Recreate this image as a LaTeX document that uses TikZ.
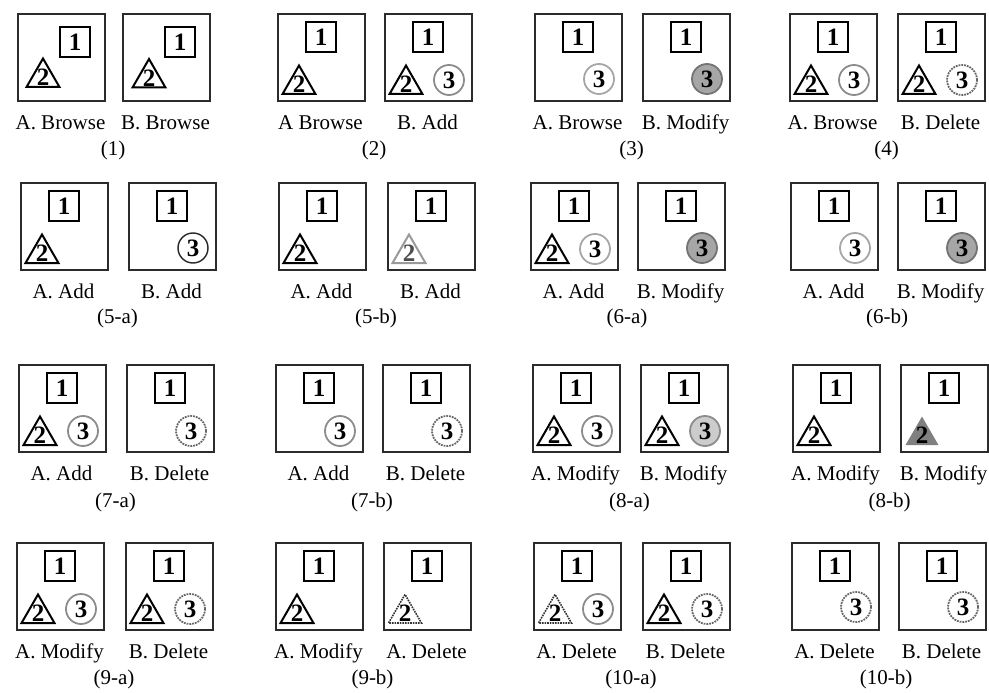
\documentclass[tikz,border=0pt]{standalone}
\usepackage{fontspec}
\setmainfont{Liberation Serif}
\usetikzlibrary{shapes.geometric}
\definecolor{framec}{HTML}{2B2B2B}
\definecolor{ringc}{HTML}{8C8C8C}
\definecolor{modc}{HTML}{A6A6A6}

\begin{document}
\begin{tikzpicture}[x=1pt,y=-1pt,font=\fontsize{21}{24}\selectfont,
  frame/.style={draw=framec,line width=1.6pt,minimum size=87pt,inner sep=0pt,anchor=north west},
  digit/.style={font=\fontsize{25}{25}\selectfont\bfseries,inner sep=0pt},
  sq/.style={digit,draw=black,line width=2.2pt,minimum size=30pt},
  tri/.style={regular polygon,regular polygon sides=3,minimum size=38pt,inner sep=0pt,draw=black,line width=2pt},
  trigray/.style={tri,draw=black!40},
  trimod/.style={tri,draw=none,fill=black!50},
  tridel/.style={tri,draw=black!80,line width=1.6pt,densely dotted},
  circ/.style={digit,circle,draw=ringc,line width=1.8pt,minimum size=30pt},
  circlt/.style={circ,draw=black!35},
  circnew/.style={circ,draw=black!85,line width=1.4pt},
  circmod/.style={circ,fill=modc,draw=black!55},
  circmodlt/.style={circ,fill=black!20,draw=black!45},
  circdel/.style={circ,draw=black!60,densely dotted},
  lab/.style={inner sep=0pt,anchor=base},
  caption/.style={inner sep=0pt,anchor=base}]
\useasboundingbox (0,0) rectangle (989,693);
% row 1
\begin{scope}[shift={(17,13)}]
\node[frame] (f1a) at (0,0) {};
\node[sq] (s1a) at (58,29) {1};
\node[tri] (t1a) at (26,64.5) {};
\node[digit] (n1a) at (t1a.center) {2};
\node[lab] (l1a) at (43.5,116) {A. Browse};
\end{scope}
\begin{scope}[shift={(122,13)}]
\node[frame] (f1b) at (0,0) {};
\node[sq] (s1b) at (58,29) {1};
\node[tri] (t1b) at (27,65) {};
\node[digit] (n1b) at (t1b.center) {2};
\node[lab] (l1b) at (43.5,116) {B. Browse};
\end{scope}
\node[caption] (c1) at (113,155) {(1)};
\begin{scope}[shift={(277,13)}]
\node[frame] (f2a) at (0,0) {};
\node[sq] (s2a) at (44,24) {1};
\node[tri] (t2a) at (22,71.5) {};
\node[digit] (n2a) at (t2a.center) {2};
\node[lab] (l2a) at (43.5,116) {A Browse};
\end{scope}
\begin{scope}[shift={(384,13)}]
\node[frame] (f2b) at (0,0) {};
\node[sq] (s2b) at (44,24) {1};
\node[tri] (t2b) at (22,71.5) {};
\node[digit] (n2b) at (t2b.center) {2};
\node[circ] (o2b) at (65,67) {3};
\node[lab] (l2b) at (43.5,116) {B. Add};
\end{scope}
\node[caption] (c2) at (374,155) {(2)};
\begin{scope}[shift={(534,13)}]
\node[frame] (f3a) at (0,0) {};
\node[sq] (s3a) at (44,24) {1};
\node[circlt] (o3a) at (65,66) {3};
\node[lab] (l3a) at (43.5,116) {A. Browse};
\end{scope}
\begin{scope}[shift={(642,13)}]
\node[frame] (f3b) at (0,0) {};
\node[sq] (s3b) at (44,24) {1};
\node[circmod] (o3b) at (65,66) {3};
\node[lab] (l3b) at (43.5,116) {B. Modify};
\end{scope}
\node[caption] (c3) at (631.5,155) {(3)};
\begin{scope}[shift={(789,13)}]
\node[frame] (f4a) at (0,0) {};
\node[sq] (s4a) at (44,24) {1};
\node[tri] (t4a) at (22,71.5) {};
\node[digit] (n4a) at (t4a.center) {2};
\node[circ] (o4a) at (65,67) {3};
\node[lab] (l4a) at (43.5,116) {A. Browse};
\end{scope}
\begin{scope}[shift={(897,13)}]
\node[frame] (f4b) at (0,0) {};
\node[sq] (s4b) at (44,24) {1};
\node[tri] (t4b) at (22,71.5) {};
\node[digit] (n4b) at (t4b.center) {2};
\node[circdel] (o4b) at (65,67) {3};
\node[lab] (l4b) at (43.5,116) {B. Delete};
\end{scope}
\node[caption] (c4) at (886.5,155) {(4)};
% row 2
\begin{scope}[shift={(20,182)}]
\node[frame] (f5a) at (0,0) {};
\node[sq] (s5a) at (44,24) {1};
\node[tri] (t5a) at (22,71.5) {};
\node[digit] (n5a) at (t5a.center) {2};
\node[lab] (l5a) at (43.5,116) {A. Add};
\end{scope}
\begin{scope}[shift={(128,182)}]
\node[frame] (f5b) at (0,0) {};
\node[sq] (s5b) at (44,24) {1};
\node[circnew] (o5b) at (65,66) {3};
\node[lab] (l5b) at (43.5,116) {B. Add};
\end{scope}
\node[caption] (c5) at (117.5,323) {(5-a)};
\begin{scope}[shift={(278,182)}]
\node[frame] (f6a) at (0,0) {};
\node[sq] (s6a) at (44,24) {1};
\node[tri] (t6a) at (22,71.5) {};
\node[digit] (n6a) at (t6a.center) {2};
\node[lab] (l6a) at (43.5,116) {A. Add};
\end{scope}
\begin{scope}[shift={(387,182)}]
\node[frame] (f6b) at (0,0) {};
\node[sq] (s6b) at (44,24) {1};
\node[trigray] (t6b) at (22,71.5) {};
\node[digit,text=black!70] (n6b) at (t6b.center) {2};
\node[lab] (l6b) at (43.5,116) {B. Add};
\end{scope}
\node[caption] (c6) at (376,323) {(5-b)};
\begin{scope}[shift={(530,182)}]
\node[frame] (f7a) at (0,0) {};
\node[sq] (s7a) at (44,24) {1};
\node[tri] (t7a) at (22,71.5) {};
\node[digit] (n7a) at (t7a.center) {2};
\node[circlt] (o7a) at (65,67) {3};
\node[lab] (l7a) at (43.5,116) {A. Add};
\end{scope}
\begin{scope}[shift={(637,182)}]
\node[frame] (f7b) at (0,0) {};
\node[sq] (s7b) at (44,24) {1};
\node[circmod] (o7b) at (65,66) {3};
\node[lab] (l7b) at (43.5,116) {B. Modify};
\end{scope}
\node[caption] (c7) at (627,323) {(6-a)};
\begin{scope}[shift={(790,182)}]
\node[frame] (f8a) at (0,0) {};
\node[sq] (s8a) at (44,24) {1};
\node[circlt] (o8a) at (65,66) {3};
\node[lab] (l8a) at (43.5,116) {A. Add};
\end{scope}
\begin{scope}[shift={(897,182)}]
\node[frame] (f8b) at (0,0) {};
\node[sq] (s8b) at (44,24) {1};
\node[circmod] (o8b) at (65,66) {3};
\node[lab] (l8b) at (43.5,116) {B. Modify};
\end{scope}
\node[caption] (c8) at (887,323) {(6-b)};
% row 3
\begin{scope}[shift={(18,364)}]
\node[frame] (f9a) at (0,0) {};
\node[sq] (s9a) at (44,24) {1};
\node[tri] (t9a) at (22,71.5) {};
\node[digit] (n9a) at (t9a.center) {2};
\node[circ] (o9a) at (65,67) {3};
\node[lab] (l9a) at (43.5,116) {A. Add};
\end{scope}
\begin{scope}[shift={(126,364)}]
\node[frame] (f9b) at (0,0) {};
\node[sq] (s9b) at (44,24) {1};
\node[circdel] (o9b) at (65,67) {3};
\node[lab] (l9b) at (43.5,116) {B. Delete};
\end{scope}
\node[caption] (c9) at (115.5,507) {(7-a)};
\begin{scope}[shift={(275,364)}]
\node[frame] (f10a) at (0,0) {};
\node[sq] (s10a) at (44,24) {1};
\node[circ] (o10a) at (65,67) {3};
\node[lab] (l10a) at (43.5,116) {A. Add};
\end{scope}
\begin{scope}[shift={(382,364)}]
\node[frame] (f10b) at (0,0) {};
\node[sq] (s10b) at (44,24) {1};
\node[circdel] (o10b) at (65,67) {3};
\node[lab] (l10b) at (43.5,116) {B. Delete};
\end{scope}
\node[caption] (c10) at (372,507) {(7-b)};
\begin{scope}[shift={(532,364)}]
\node[frame] (f11a) at (0,0) {};
\node[sq] (s11a) at (44,24) {1};
\node[tri] (t11a) at (22,71.5) {};
\node[digit] (n11a) at (t11a.center) {2};
\node[circ] (o11a) at (65,67) {3};
\node[lab] (l11a) at (43.5,116) {A. Modify};
\end{scope}
\begin{scope}[shift={(640,364)}]
\node[frame] (f11b) at (0,0) {};
\node[sq] (s11b) at (44,24) {1};
\node[tri] (t11b) at (22,71.5) {};
\node[digit] (n11b) at (t11b.center) {2};
\node[circmodlt] (o11b) at (65,67) {3};
\node[lab] (l11b) at (43.5,116) {B. Modify};
\end{scope}
\node[caption] (c11) at (629.5,507) {(8-a)};
\begin{scope}[shift={(792,364)}]
\node[frame] (f12a) at (0,0) {};
\node[sq] (s12a) at (44,24) {1};
\node[tri] (t12a) at (22,71.5) {};
\node[digit] (n12a) at (t12a.center) {2};
\node[lab] (l12a) at (43.5,116) {A. Modify};
\end{scope}
\begin{scope}[shift={(900,364)}]
\node[frame] (f12b) at (0,0) {};
\node[sq] (s12b) at (44,24) {1};
\node[trimod] (t12b) at (22,71.5) {};
\node[digit] (n12b) at (t12b.center) {2};
\node[lab] (l12b) at (43.5,116) {B. Modify};
\end{scope}
\node[caption] (c12) at (889.5,507) {(8-b)};
% row 4
\begin{scope}[shift={(16,542)}]
\node[frame] (f13a) at (0,0) {};
\node[sq] (s13a) at (44,24) {1};
\node[tri] (t13a) at (22,71.5) {};
\node[digit] (n13a) at (t13a.center) {2};
\node[circ] (o13a) at (65,67) {3};
\node[lab] (l13a) at (43.5,116) {A. Modify};
\end{scope}
\begin{scope}[shift={(125,542)}]
\node[frame] (f13b) at (0,0) {};
\node[sq] (s13b) at (44,24) {1};
\node[tri] (t13b) at (22,71.5) {};
\node[digit] (n13b) at (t13b.center) {2};
\node[circdel] (o13b) at (65,67) {3};
\node[lab] (l13b) at (43.5,116) {B. Delete};
\end{scope}
\node[caption] (c13) at (114,684) {(9-a)};
\begin{scope}[shift={(275,542)}]
\node[frame] (f14a) at (0,0) {};
\node[sq] (s14a) at (44,24) {1};
\node[tri] (t14a) at (22,71.5) {};
\node[digit] (n14a) at (t14a.center) {2};
\node[lab] (l14a) at (43.5,116) {A. Modify};
\end{scope}
\begin{scope}[shift={(383,542)}]
\node[frame] (f14b) at (0,0) {};
\node[sq] (s14b) at (44,24) {1};
\node[tridel] (t14b) at (22,71.5) {};
\node[digit] (n14b) at (t14b.center) {2};
\node[lab] (l14b) at (43.5,116) {A. Delete};
\end{scope}
\node[caption] (c14) at (372.5,684) {(9-b)};
\begin{scope}[shift={(533,542)}]
\node[frame] (f15a) at (0,0) {};
\node[sq] (s15a) at (44,24) {1};
\node[tridel] (t15a) at (22,71.5) {};
\node[digit] (n15a) at (t15a.center) {2};
\node[circ] (o15a) at (65,67) {3};
\node[lab] (l15a) at (43.5,116) {A. Delete};
\end{scope}
\begin{scope}[shift={(642,542)}]
\node[frame] (f15b) at (0,0) {};
\node[sq] (s15b) at (44,24) {1};
\node[tri] (t15b) at (22,71.5) {};
\node[digit] (n15b) at (t15b.center) {2};
\node[circdel] (o15b) at (65,67) {3};
\node[lab] (l15b) at (43.5,116) {B. Delete};
\end{scope}
\node[caption] (c15) at (631,684) {(10-a)};
\begin{scope}[shift={(791,542)}]
\node[frame] (f16a) at (0,0) {};
\node[sq] (s16a) at (44,24) {1};
\node[circdel] (o16a) at (65,65) {3};
\node[lab] (l16a) at (43.5,116) {A. Delete};
\end{scope}
\begin{scope}[shift={(898,542)}]
\node[frame] (f16b) at (0,0) {};
\node[sq] (s16b) at (44,24) {1};
\node[circdel] (o16b) at (65,65) {3};
\node[lab] (l16b) at (43.5,116) {B. Delete};
\end{scope}
\node[caption] (c16) at (886,684) {(10-b)};
\end{tikzpicture}
\end{document}
